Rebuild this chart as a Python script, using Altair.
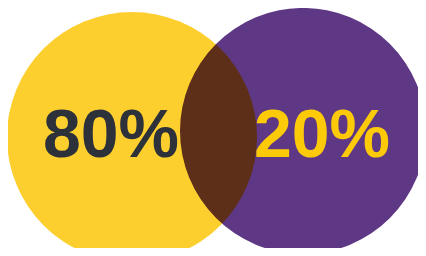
import altair as alt
import pandas as pd

# Data
groups = ["A", "B"]
shares = [80, 20]
labels = ["80%", "20%"]

# Layout (image pixel coordinates)
cx = [132, 303]
cy = [137, 131]
radius = [125, 123]
circle_colors = ["#FDCF2E", "#5E3884"]
text_colors = ["#2D3139", "#FDCA0A"]
text_x = [111, 322]
text_y = [157, 157]

df = pd.DataFrame({
    "group": groups,
    "share": shares,
    "label": labels,
    "cx": cx,
    "cy": cy,
    "size": [(2 * r) ** 2 for r in radius],
    "tx": text_x,
    "ty": text_y,
})

W, H = 410, 240
xs = alt.Scale(domain=[8, 8 + W], nice=False, zero=False)
ys = alt.Scale(domain=[8, 8 + H], nice=False, zero=False, reverse=True)

circles = alt.Chart(df).mark_point(
    shape="circle", filled=True, opacity=1, strokeWidth=0, blend="multiply"
).encode(
    x=alt.X("cx:Q", scale=xs, axis=None),
    y=alt.Y("cy:Q", scale=ys, axis=None),
    size=alt.Size("size:Q", scale=None, legend=None),
    color=alt.Color("group:N", scale=alt.Scale(domain=groups, range=circle_colors), legend=None),
)

text = alt.Chart(df).mark_text(
    font="Liberation Sans", fontWeight="bold", fontSize=68,
    align="center", baseline="alphabetic"
).encode(
    x=alt.X("tx:Q", scale=xs, axis=None),
    y=alt.Y("ty:Q", scale=ys, axis=None),
    text="label:N",
    color=alt.Color("group:N", scale=alt.Scale(domain=groups, range=text_colors), legend=None),
)

chart = alt.layer(circles, text).resolve_scale(color="independent").properties(
    width=W, height=H, padding=0, autosize=alt.AutoSizeParams(type="none"),
    background="white",
).configure_view(stroke=None)

chart.save("out.html", embed_options={"renderer": "svg", "actions": False})
